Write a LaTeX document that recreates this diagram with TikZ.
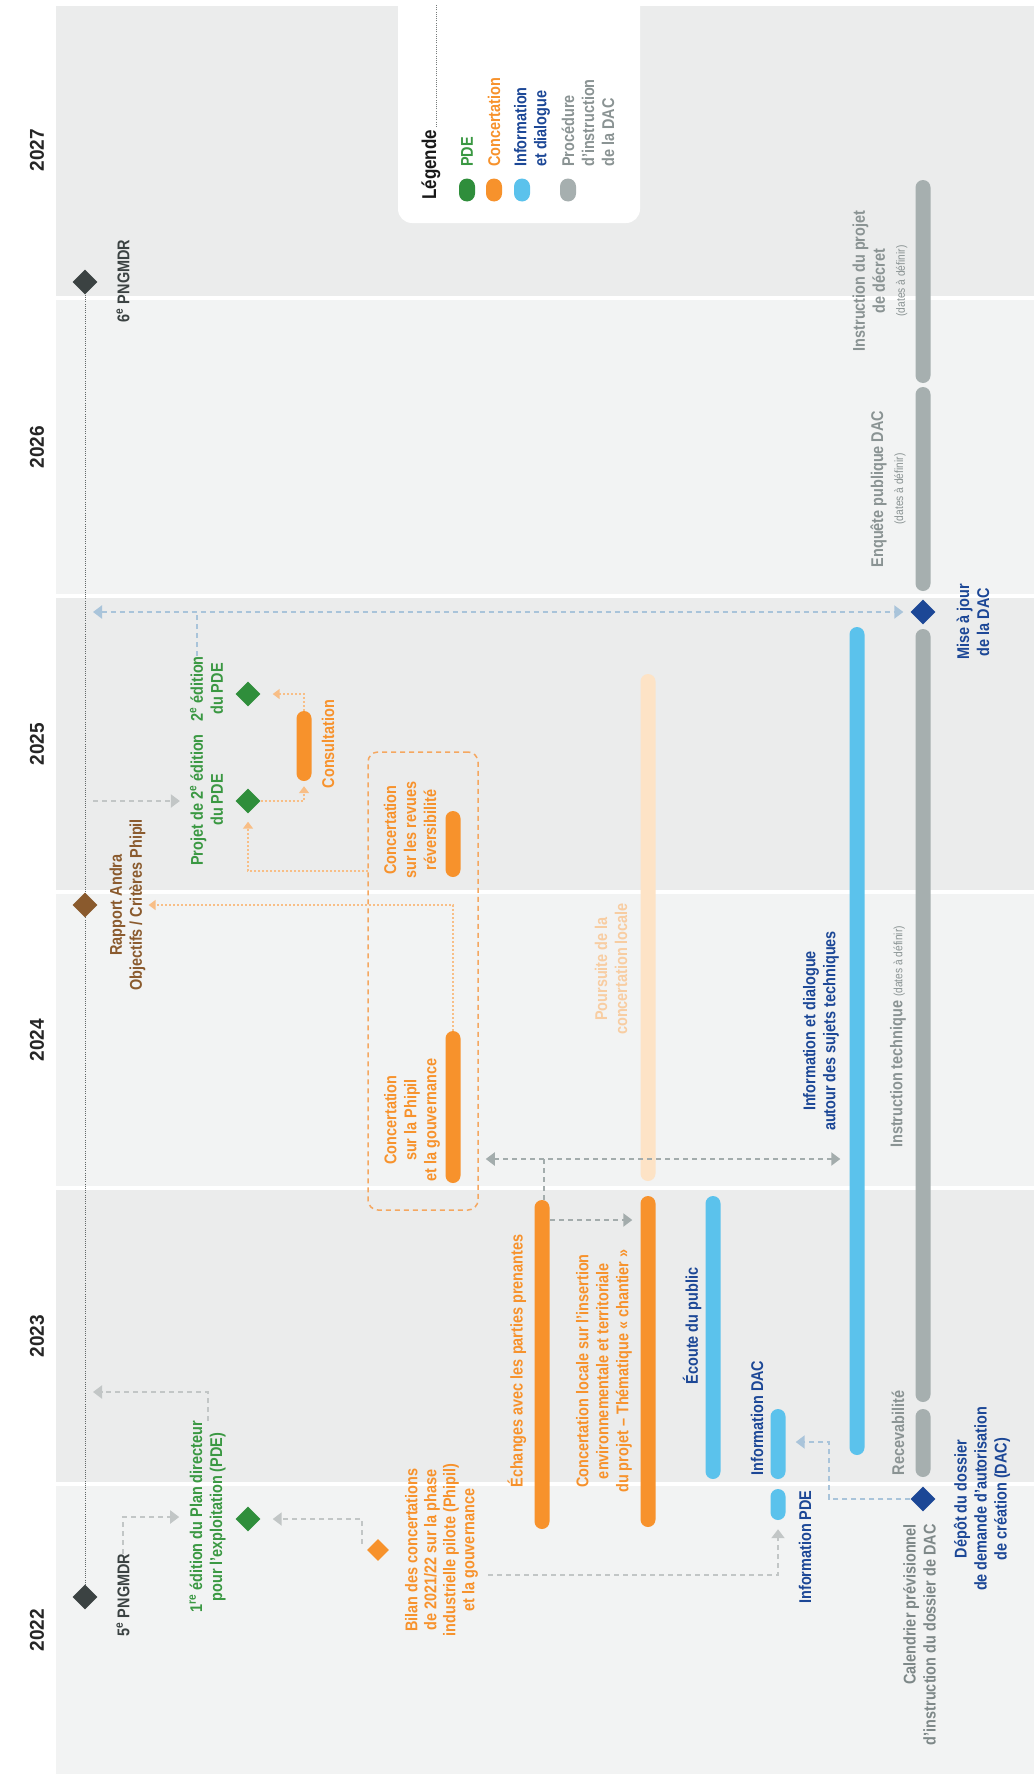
\documentclass[tikz,border=0pt]{standalone}
\usepackage{fontspec}
\setmainfont{Liberation Sans}[FakeStretch=0.85]
\newfontfamily\yearfont{Liberation Sans}[FakeStretch=0.95]
\usetikzlibrary{shapes.geometric,arrows.meta,calc}
\definecolor{bgdark}{HTML}{EBECEC}
\definecolor{bglight}{HTML}{F2F3F3}
\definecolor{corange}{HTML}{F7922C}
\definecolor{cpeach}{HTML}{FDE3C6}
\definecolor{cpeachtxt}{HTML}{F8CDA2}
\definecolor{cgreen}{HTML}{2F8E3B}
\definecolor{cgreentxt}{HTML}{3A9842}
\definecolor{cblue}{HTML}{5BC2EC}
\definecolor{cdblue}{HTML}{1C4796}
\definecolor{cgraybar}{HTML}{A6AFAF}
\definecolor{cgraytxt}{HTML}{8A9393}
\definecolor{ccaltxt}{HTML}{7E8888}
\definecolor{cdark}{HTML}{3B4242}
\definecolor{cbrown}{HTML}{8A5A2D}
\definecolor{cconn}{HTML}{C2C6C6}
\definecolor{cconnb}{HTML}{A3ACAC}
\definecolor{cbconn}{HTML}{A9C4DA}
\definecolor{coconn}{HTML}{F8BE86}
\definecolor{cboxline}{HTML}{F5A760}
\begin{document}
\begin{tikzpicture}[x=1pt,y=-1pt,
  lbl/.style={rotate=90, inner sep=0pt, align=center, font=\bfseries\fontsize{17}{20}\selectfont},
  barnode/.style={rectangle, rounded corners=7.5pt, minimum width=15pt, inner sep=0pt},
  dia/.style={diamond, inner sep=0pt, minimum width=25pt, minimum height=25pt},
  gconn/.style={draw=cconn, line width=2pt, dash pattern=on 5pt off 4pt},
  gconnb/.style={draw=cconnb, line width=2pt, dash pattern=on 5pt off 4pt},
  bconn/.style={draw=cbconn, line width=2pt, dash pattern=on 5pt off 4pt},
  oconn/.style={draw=coconn, line width=1.6pt, dash pattern=on 2pt off 2pt},
  gtip/.style={-{Triangle[length=9pt,width=13pt]}},
  dtip/.style={{Triangle[length=9pt,width=13pt]}-{Triangle[length=9pt,width=13pt]}},
  otip/.style={-{Triangle[length=7pt,width=10pt]}},
  small/.style={font=\mdseries\fontsize{12}{14}\selectfont}
]
\useasboundingbox (0,0) rectangle (1034,1774);
\fill[white] (0,0) rectangle (1034,1774);
% year bands
\fill[bgdark] (56,6) rectangle (1034,296);
\fill[bglight] (56,300) rectangle (1034,594);
\fill[bgdark] (56,598) rectangle (1034,890);
\fill[bglight] (56,894) rectangle (1034,1186);
\fill[bgdark] (56,1190) rectangle (1034,1482);
\fill[bglight] (56,1486) rectangle (1034,1774);

% years
\foreach \yr/\yy in {2027/150,2026/447,2025/744,2024/1040,2023/1336,2022/1630}
  \node[rotate=90, inner sep=0pt, text=black!85, font=\yearfont\bfseries\fontsize{20}{22}\selectfont] (y\yr) at (37,\yy) {\yr};

% legend
\fill[white, rounded corners=14pt] (398,-30) rectangle (640,223);
\node[rotate=90, inner sep=0pt, anchor=west, font=\bfseries\fontsize{20}{22}\selectfont, text=black!90] (legt) at (431,200) {Légende};
\coordinate (legA) at (436,127);
\coordinate (legB) at (436,4);
\draw[cdark!70, line width=0.8pt, dash pattern=on 1pt off 1.2pt] (legA) -- (legB);
\node[barnode, fill=cgreen, minimum width=16pt, minimum height=23pt, rounded corners=8pt] (ldg) at (467,190) {};
\node[barnode, fill=corange, minimum width=16pt, minimum height=23pt, rounded corners=8pt] (ldo) at (494,190) {};
\node[barnode, fill=cblue, minimum width=16pt, minimum height=23pt, rounded corners=8pt] (ldb) at (522,190) {};
\node[barnode, fill=cgraybar, minimum width=16pt, minimum height=23pt, rounded corners=8pt] (ldy) at (568,190) {};
\node[lbl, anchor=west, align=left, text=cgreentxt] (llg) at (467,167) {PDE};
\node[lbl, anchor=west, align=left, text=corange] (llo) at (494,167) {Concertation};
\node[lbl, anchor=west, align=left, text=cdblue] (llb) at (532,167) {Information\\et dialogue};
\node[lbl, anchor=west, align=left, text=cgraytxt] (lly) at (588,167) {Procédure\\d'instruction\\de la DAC};

% PNGMDR line
\node[dia, fill=cdark] (png6) at (85,282) {};
\node[dia, fill=cdark] (png5) at (85,1597) {};
\draw[cdark!80, line width=0.8pt, dash pattern=on 1pt off 1.2pt] (png6.south) -- (png5.north);
\node[dia, fill=cbrown] (rapd) at (85,905) {};
\node[lbl, text=cdark] (png6l) at (123,281) {6\textsuperscript{e} PNGMDR};
\node[lbl, text=cdark] (png5l) at (123,1595) {5\textsuperscript{e} PNGMDR};
\node[lbl, text=cbrown] (rapl) at (127.5,905) {Rapport Andra\\Objectifs / Critères Phipil};

% PDE
\node[dia, fill=cgreen] (pde1) at (248,1519) {};
\node[dia, fill=cgreen] (projd) at (248,801) {};
\node[dia, fill=cgreen] (pde2) at (248,694) {};
\node[lbl, text=cgreentxt] (pde1l) at (207.5,1517) {1\textsuperscript{re} édition du Plan directeur\\pour l'exploitation (PDE)};
\node[lbl, text=cgreentxt] (projl) at (206.5,800) {Projet de 2\textsuperscript{e} édition\\du PDE};
\node[lbl, text=cgreentxt] (pde2l) at (206.5,689) {2\textsuperscript{e} édition\\du PDE};

% concertation
\node[draw=cboxline, line width=1.5pt, dash pattern=on 5pt off 4pt, rounded corners=10pt, minimum width=110pt, minimum height=458pt, inner sep=0pt] (cbox) at (423,981) {};
\node[barnode, fill=corange, minimum height=70pt] (consult) at (304,746) {};
\node[barnode, fill=corange, minimum height=66pt] (revues) at (453,844) {};
\node[barnode, fill=corange, minimum height=152pt] (phipil) at (453,1107) {};
\node[barnode, fill=corange, minimum height=329pt] (echanges) at (542,1364.5) {};
\node[barnode, fill=corange, minimum height=331pt] (concloc) at (648,1361.5) {};
\node[barnode, fill=cpeach, minimum height=507pt] (poursuite) at (648,927.5) {};
\node[dia, fill=corange, minimum width=22pt, minimum height=22pt] (bilan) at (378,1550) {};
\node[lbl, text=corange] (consultl) at (328,744) {Consultation};
\node[lbl, text=corange] (revuesl) at (410,830) {Concertation\\sur les revues\\réversibilité};
\node[lbl, text=corange] (phipill) at (412,1120) {Concertation\\sur la Phipil\\et la gouvernance};
\node[lbl, text=corange, font=\bfseries\fontsize{17}{19}\selectfont] (bilanl) at (441.5,1550) {Bilan des concertations\\de 2021/22 sur la phase\\industrielle pilote (Phipil)\\et la gouvernance};
\node[lbl, text=corange] (echangesl) at (517,1361) {Échanges avec les parties prenantes};
\node[lbl, text=corange] (concl) at (604,1371) {Concertation locale sur l'insertion\\environnementale et territoriale\\du projet – Thématique « chantier »};
\node[lbl, text=cpeachtxt] (poursl) at (611,969) {Poursuite de la\\concertation locale};

% information
\node[barnode, fill=cblue, minimum height=283pt] (ecoute) at (713,1337.5) {};
\node[barnode, fill=cblue, minimum height=70pt] (infodac) at (778,1444) {};
\node[barnode, fill=cblue, minimum height=31pt] (infopde) at (778,1504.5) {};
\node[barnode, fill=cblue, minimum height=828pt] (infotech) at (857,1041) {};
\node[lbl, text=cdblue] (ecoutel) at (692,1326) {Écoute du public};
\node[lbl, text=cdblue] (infodacl) at (757,1418) {Information DAC};
\node[lbl, text=cdblue] (infopdel) at (805,1547) {Information PDE};
\node[lbl, text=cdblue] (infotechl) at (821,1031) {Information et dialogue\\autour des sujets techniques};

% procedure
\node[barnode, fill=cgraybar, minimum height=203pt] (decret) at (923,281.5) {};
\node[barnode, fill=cgraybar, minimum height=204pt] (enquete) at (923,489) {};
\node[barnode, fill=cgraybar, minimum height=773pt] (insttech) at (923,1015.5) {};
\node[barnode, fill=cgraybar, minimum height=68pt] (recev) at (923,1443) {};
\node[dia, fill=cdblue] (majd) at (923,612) {};
\node[dia, fill=cdblue] (depot) at (923,1499) {};
\node[lbl, anchor=west, text=cgraytxt] (insttechl) at (898,1148) {Instruction technique {\small\mdseries\fontsize{12}{14}\selectfont(dates à définir)}};
\node[lbl, text=cgraytxt] (recevl) at (898,1433) {Recevabilité};
\node[lbl, text=cgraytxt] (enquetel) at (888,489) {Enquête publique DAC\\{\mdseries\fontsize{12}{14}\selectfont(dates à définir)}};
\node[lbl, text=cgraytxt] (decretl) at (880,281) {Instruction du projet\\de décret\\{\mdseries\fontsize{12}{14}\selectfont(dates à définir)}};
\node[lbl, text=cdblue] (majl) at (973,622) {Mise à jour\\de la DAC};
\node[lbl, text=cdblue] (depotl) at (982,1499) {Dépôt du dossier\\de demande d'autorisation\\de création (DAC)};
\node[lbl, anchor=east, align=right, text=ccaltxt] (call) at (919.5,1524) {Calendrier prévisionnel\\d'instruction du dossier de DAC};

% connectors
\draw[gconn, gtip, shorten >=10pt] (png5l.east) |- (pde1l.north);
\coordinate (c2) at (362,1544);
\draw[gconn, gtip, shorten >=12pt] (c2) |- (pde1.east);
\coordinate (l801) at (85,801);
\draw[gconn, gtip, shorten <=8pt, shorten >=10pt] (l801) -- (l801 -| projl.north);
\coordinate (l1392) at (85,1392);
\draw[gconn, gtip, shorten >=8pt] (pde1l.east) |- (l1392);
\draw[oconn, otip, shorten >=3pt] (phipil.north) |- (rapl.south);
\coordinate (c6) at (368,871);
\draw[oconn, otip, shorten >=8pt] (c6) -| (projd.south);
\draw[oconn, otip, shorten >=5pt] (projd.east) -| (consult.south);
\draw[oconn, otip, shorten >=12pt] (consult.north) |- (pde2.east);
\coordinate (c9) at (197,612);
\coordinate (l612) at (85,612);
\draw[bconn] (pde2l.east -| c9) -- (c9);
\draw[bconn, dtip, shorten <=8pt, shorten >=7pt] (l612) -- (majd.west);
\coordinate (c10) at (544,1159);
\draw[gconnb] (echanges.north -| c10) -- (c10);
\draw[gconnb, dtip, shorten <=7pt, shorten >=9pt] (cbox.east |- c10) -- (infotech.west |- c10);
\coordinate (c11) at (550,1220);
\draw[gconnb, gtip, shorten >=8pt] (c11) -- (c11 -| concloc.west);
\coordinate (c12) at (488,1575);
\draw[gconn, gtip, shorten >=9pt] (c12) -| (infopde.south);
\coordinate (c13) at (829,1442);
\draw[bconn, gtip, shorten >=10pt] (depot.west) -| (c13) -- (c13 -| infodac.east);
\end{tikzpicture}
\end{document}
